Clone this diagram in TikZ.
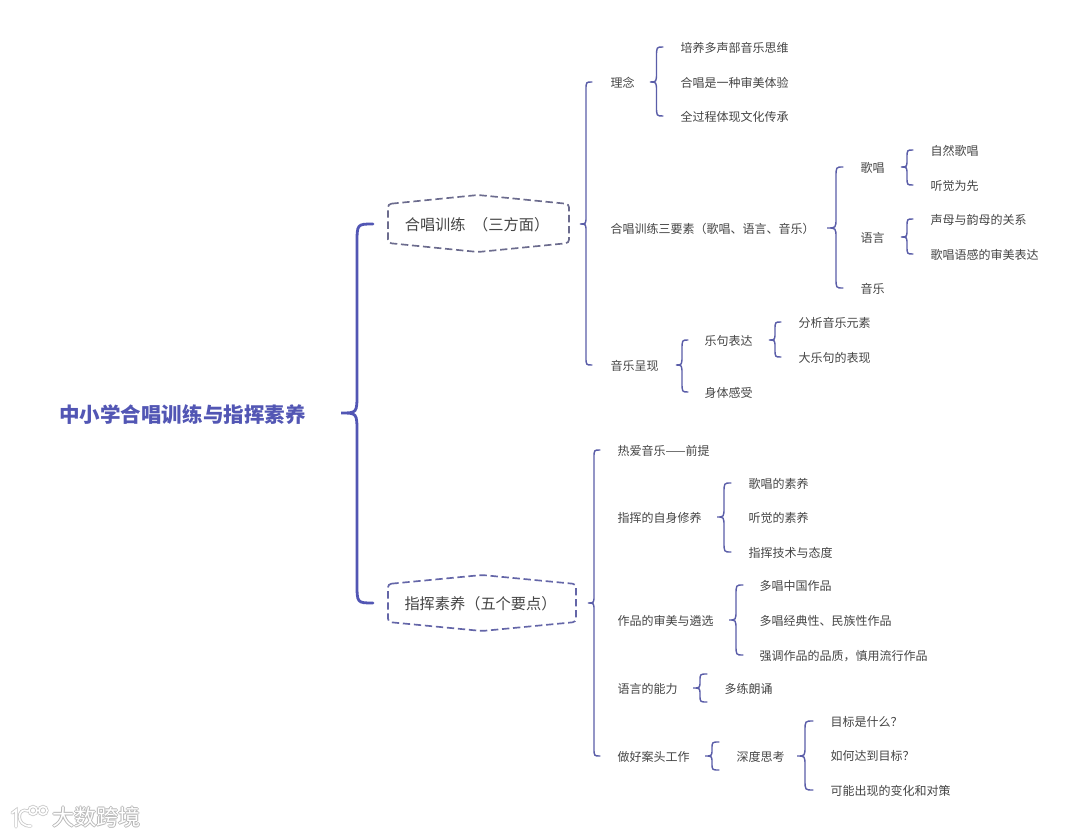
\documentclass[tikz,border=0pt]{standalone}
\usepackage{fontspec}
\setmainfont{Noto Sans CJK SC}
\usetikzlibrary{calc}
\definecolor{mainblue}{HTML}{5256B4}
\definecolor{subblue}{HTML}{5A5DA8}
\definecolor{dashblue}{HTML}{6466A8}
\definecolor{dashgrey}{HTML}{6C6C8E}
\definecolor{txt}{HTML}{454545}
\tikzset{
  x=0.75pt,y=-0.75pt,
  lab/.style={anchor=west,inner sep=0pt,xshift=-0.5pt,text height=9.5pt,text depth=1.1pt,text=txt,font=\fontsize{9}{11}\selectfont},
  titlelab/.style={inner sep=0pt,text height=16.5pt,text depth=1.9pt,text=mainblue,font=\fontsize{15.4}{18}\selectfont\bfseries},
  hexlab/.style={inner sep=0pt,text height=11.7pt,text depth=1.4pt,text=txt,font=\fontsize{11.4}{14}\selectfont},
  brcline/.style={draw=subblue,line width=1.05pt,line cap=round},
  brcmain/.style={draw=mainblue,line width=2.1pt,line cap=round},
  hexline/.style={line width=1.25pt,dash pattern=on 5.5pt off 2.8pt,rounded corners=2.5pt},
  mark1/.style={font=\fontsize{16.5}{18}\selectfont,inner sep=0pt,anchor=west}
}
% [style]{parent}{first}{last}{tip x}{spine x}{end x}{radius}
\newcommand\brc[8][brcline]{%
  \coordinate (tT) at (#5,0);
  \coordinate (tS) at (#6,0);
  \coordinate (tE) at (#7,0);
  \draw[#1] (tE |- #3) .. controls (tS |- #3) .. ($(tS |- #3)+(0,#8)$)
    -- ($(tS |- #2)-(0,#8)$) .. controls (tS |- #2) .. (tT |- #2)
    .. controls (tS |- #2) .. ($(tS |- #2)+(0,#8)$)
    -- ($(tS |- #4)-(0,#8)$) .. controls (tS |- #4) .. (tE |- #4);
}
\begin{document}
\begin{tikzpicture}
\useasboundingbox[fill=white] (0,0) rectangle (1080,837);
% title and the two main branches
\node[titlelab] (root) at (182.5,413) {中小学合唱训练与指挥素养};
\node[hexlab] (h1) at (477,224) {合唱训练\hspace{0.5em}（三方面）};
\node[hexlab] (h2) at (480.5,603) {指挥素养（五个要点）};
\draw[hexline,dashgrey] (388,204) -- (478,195) -- (569,204) -- (569,243) -- (478,252) -- (388,243) -- cycle;
\draw[hexline,dashblue] (388,584) -- (482,575) -- (576,584) -- (576,622) -- (482,631) -- (388,622) -- cycle;
\brc[brcmain]{root}{h1}{h2}{341}{357}{373}{20}
% first branch
\node[lab] (a1) at (611,82) {理念};
\node[lab] (a2) at (611,228) {合唱训练三要素（歌唱、语言、音乐）};
\node[lab] (a3) at (611,365) {音乐呈现};
\brc{h1}{a1}{a3}{580}{586}{592}{8}
\node[lab] (a11) at (681,47) {培养多声部音乐思维};
\node[lab] (a12) at (681,82) {合唱是一种审美体验};
\node[lab] (a13) at (681,116) {全过程体现文化传承};
\brc{a1}{a11}{a13}{650}{656.5}{663}{10}
\node[lab] (a21) at (861,167) {歌唱};
\node[lab] (a22) at (861,237) {语言};
\node[lab] (a23) at (861,288) {音乐};
\brc{a2}{a21}{a23}{827}{836}{843}{10}
\node[lab] (a211) at (931,150) {自然歌唱};
\node[lab] (a212) at (931,185) {听觉为先};
\brc{a21}{a211}{a212}{901}{907}{913}{8}
\node[lab] (a221) at (931,219) {声母与韵母的关系};
\node[lab] (a222) at (931,254) {歌唱语感的审美表达};
\brc{a22}{a221}{a222}{901}{907}{913}{8}
\node[lab] (a31) at (705,340) {乐句表达};
\node[lab] (a32) at (705,392) {身体感受};
\brc{a3}{a31}{a32}{676}{682}{688}{10}
\node[lab] (a311) at (799,322) {分析音乐元素};
\node[lab] (a312) at (799,357) {大乐句的表现};
\brc{a31}{a311}{a312}{769}{775}{781}{8}
% second branch
\node[lab] (b1) at (618,450) {热爱音乐——前提};
\node[lab] (b2) at (618,517) {指挥的自身修养};
\node[lab] (b3) at (618,620) {作品的审美与遴选};
\node[lab] (b4) at (618,688) {语言的能力};
\node[lab] (b5) at (618,756) {做好案头工作};
\brc{h2}{b1}{b5}{588}{594}{600}{8}
\node[lab] (b21) at (749,483) {歌唱的素养};
\node[lab] (b22) at (749,517) {听觉的素养};
\node[lab] (b23) at (749,552) {指挥技术与态度};
\brc{b2}{b21}{b23}{717}{724}{731}{10}
\node[lab] (b31) at (760,585) {多唱中国作品};
\node[lab] (b32) at (760,620) {多唱经典性、民族性作品};
\node[lab] (b33) at (760,655) {强调作品的品质，慎用流行作品};
\brc{b3}{b31}{b33}{729}{736}{743}{10}
\node[lab] (b41) at (725,688) {多练朗诵};
\coordinate (b41t) at ($(b41.west)-(0,14)$);
\coordinate (b41b) at ($(b41.west)+(0,14)$);
\brc{b4}{b41t}{b41b}{693}{700}{707}{7}
\node[lab] (b51) at (737,756) {深度思考};
\coordinate (b51t) at ($(b51.west)-(0,14)$);
\coordinate (b51b) at ($(b51.west)+(0,14)$);
\brc{b5}{b51t}{b51b}{705}{712}{719}{7}
\node[lab] (b511) at (831,721) {目标是什么？};
\node[lab] (b512) at (831,755) {如何达到目标？};
\node[lab] (b513) at (831,790) {可能出现的变化和对策};
\brc{b51}{b511}{b513}{797}{805}{813}{10}
% watermark
\foreach \dx/\dy in {-0.8/0,0.8/0,0/-0.8,0/0.8}{
  \node[mark1,text=black!28] at (52+\dx,817+\dy) {大数跨境};
}
\node[mark1,text=white] (wm) at (52,817) {大数跨境};
\foreach \c/\w in {black!22/2.4pt,white/1.2pt}{
  \draw[\c,line width=\w,line cap=round] (12,813) -- (16,810) -- (16,827);
  \draw[\c,line width=\w,line cap=round] (28,811) .. controls (17,806) and (15,827) .. (31,826);
  \draw[\c,line width=\w] (33,810.5) circle[radius=4];
  \draw[\c,line width=\w] (43,810.5) circle[radius=4];
}
\end{tikzpicture}
\end{document}
